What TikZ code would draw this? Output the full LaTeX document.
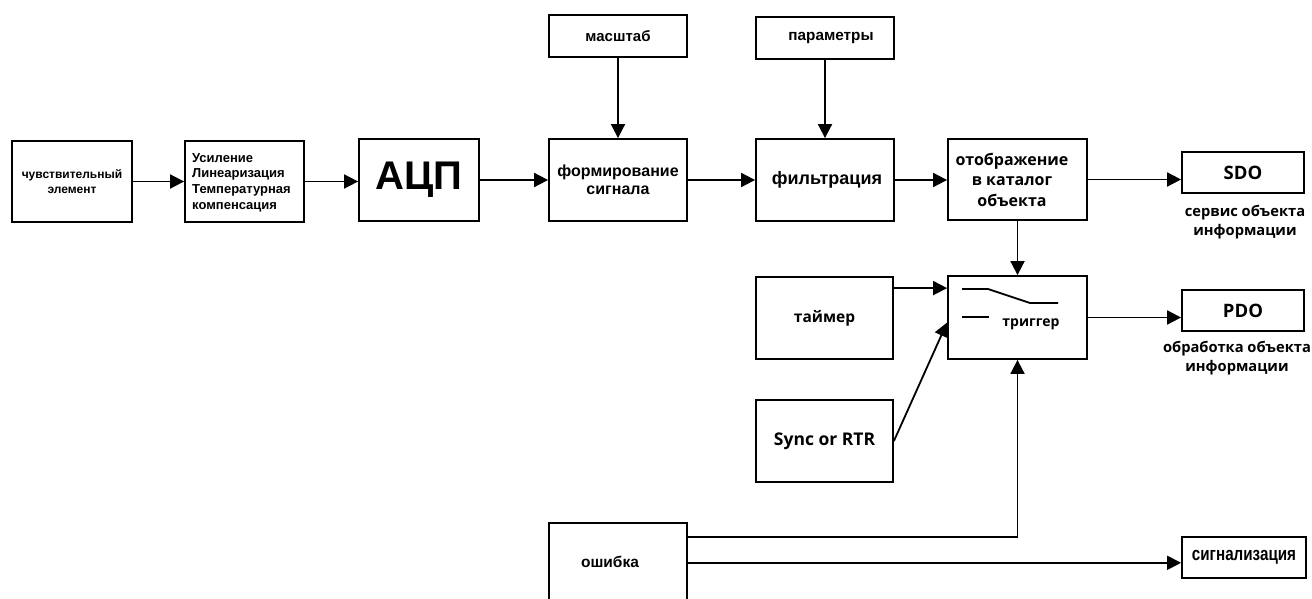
\documentclass[tikz,border=0pt]{standalone}
\usepackage{fontspec}
\setmainfont{Liberation Sans}
\newfontfamily\osf{Open Sans}
\newfontfamily\narrowf[FakeStretch=0.8]{Liberation Sans}
\usetikzlibrary{arrows.meta,calc}
\begin{document}
\begin{tikzpicture}[x=1pt,y=-1pt,
  box/.style={draw, line width=1.8pt, inner sep=0pt, align=center, font=\bfseries\fontsize{12}{15}\selectfont},
  obox/.style={box, font=\osf\bfseries\fontsize{16}{20.5}\selectfont},
  arr/.style={line width=1.8pt, -{Triangle[length=14pt,width=14pt]}},
  lbl/.style={align=center, inner sep=0pt, font=\osf\bfseries\fontsize{14.7}{18.5}\selectfont}]
\useasboundingbox (0,0) rectangle (1312,599);
% main chain
\node[box, minimum width=120pt, minimum height=81pt] (sens) at (72,181.5) {чувствительный\\элемент};
\node[draw, line width=1.8pt, minimum width=119pt, minimum height=81pt] (amp) at (244.5,181.5) {};
\node[anchor=west, align=left, inner sep=0pt, font=\bfseries\fontsize{13}{15.7}\selectfont] (amptext) at (192,182.5) {Усиление\\Линеаризация\\Температурная\\компенсация};
\node[box, minimum width=120pt, minimum height=82pt, font=\bfseries\fontsize{40}{40}\selectfont] (adc) at (419,180) {АЦП};
\node[box, minimum width=138pt, minimum height=42pt, font=\bfseries\fontsize{15}{16}\selectfont] (masht) at (618,36) {масштаб};
\node[box, minimum width=138pt, minimum height=42pt, font=\bfseries\fontsize{15.3}{16}\selectfont] (param) at (825,38) {\hspace{12pt}параметры};
\node[box, minimum width=138pt, minimum height=82pt, font=\bfseries\fontsize{16}{18}\selectfont] (form) at (618,180) {формирование\\сигнала};
\node[box, minimum width=138pt, minimum height=82pt, font=\bfseries\fontsize{18}{18}\selectfont] (filt) at (825,180) {\hspace{4pt}фильтрация};
\node[draw, line width=1.8pt, minimum width=139pt, minimum height=81pt] (map) at (1017.5,179.5) {};
\node[inner sep=0pt, align=center, font=\osf\bfseries\fontsize{16}{20.5}\selectfont] (maptext) at (1012,179.5) {отображение\\в каталог\\объекта};
\node[obox, minimum width=122pt, minimum height=41pt, font=\osf\bfseries\fontsize{18.5}{20}\selectfont] (sdo) at (1243,172.5) {SDO};
\node[lbl] (sdolbl) at (1245,222) {сервис объекта\\информации};
\node[draw, line width=1.8pt, minimum width=139pt, minimum height=83pt] (trig) at (1017.5,317.5) {};
\node[inner sep=0pt, font=\osf\bfseries\fontsize{14}{16}\selectfont] (trigtext) at (1031,324) {триггер};
\node[obox, minimum width=122pt, minimum height=41pt, font=\osf\bfseries\fontsize{18.5}{20}\selectfont] (pdo) at (1243,310.5) {PDO};
\node[lbl, font=\osf\bfseries\fontsize{14.7}{19}\selectfont] (pdolbl) at (1237,358.5) {обработка объекта\\информации};
\node[obox, minimum width=137pt, minimum height=82pt, font=\osf\bfseries\fontsize{15.5}{16}\selectfont] (timer) at (824.5,318) {таймер};
\node[obox, minimum width=137pt, minimum height=82pt, font=\osf\bfseries\fontsize{17.5}{18}\selectfont] (sync) at (824.5,441) {Sync or RTR};
\node[inner sep=0pt, minimum width=138pt, minimum height=80pt] (err) at (618,563) {};
\node[inner sep=0pt, font=\bfseries\fontsize{15.5}{16}\selectfont] (errtext) at (610,562) {ошибка};
\draw[line width=1.8pt] (err.south west) -- (err.north west) -- (err.north east) -- (err.south east);
\node[box, minimum width=124pt, minimum height=41pt, font=\narrowf\bfseries\fontsize{19}{20}\selectfont] (sig) at (1244,557.5) {сигнализация};
% switch symbol
\draw[line width=1.8pt] ($(trig.center)+(-55.5,-28.5)$) -- ($(trig.center)+(-29.5,-28.5)$) -- ($(trig.center)+(12.5,-14.5)$) -- ($(trig.center)+(40.5,-14.5)$);
\draw[line width=1.8pt] ($(trig.center)+(-55.5,-0.5)$) -- ($(trig.center)+(-28.5,-0.5)$);
% connectors
\draw[arr] (sens.east) -- (amp.west);
\draw[arr] (amp.east) -- (adc.west |- amp.east);
\draw[arr] (adc.east) -- (form.west);
\draw[arr] (form.east) -- (filt.west);
\draw[arr] (filt.east) -- (map.west |- filt.east);
\draw[arr] (map.east) -- (sdo.west |- map.east);
\draw[arr] (masht.south) -- (form.north);
\draw[arr] (param.south) -- (filt.north);
\draw[arr] (map.south) -- (trig.north);
\draw[arr] (trig.east) -- (pdo.west |- trig.east);
\draw[arr] ([yshift=-12pt]timer.north east) -- ([yshift=-13pt]trig.north west);
\draw[arr] (sync.east) -- ([yshift=-5pt]trig.west);
\coordinate (e1) at ($(err.north east)+(0,14)$);
\coordinate (e2) at ($(err.north east)+(0,40)$);
\draw[arr] (e1) -| (trig.south);
\draw[arr] (e2) -- (sig.west |- e2);
\end{tikzpicture}
\end{document}
